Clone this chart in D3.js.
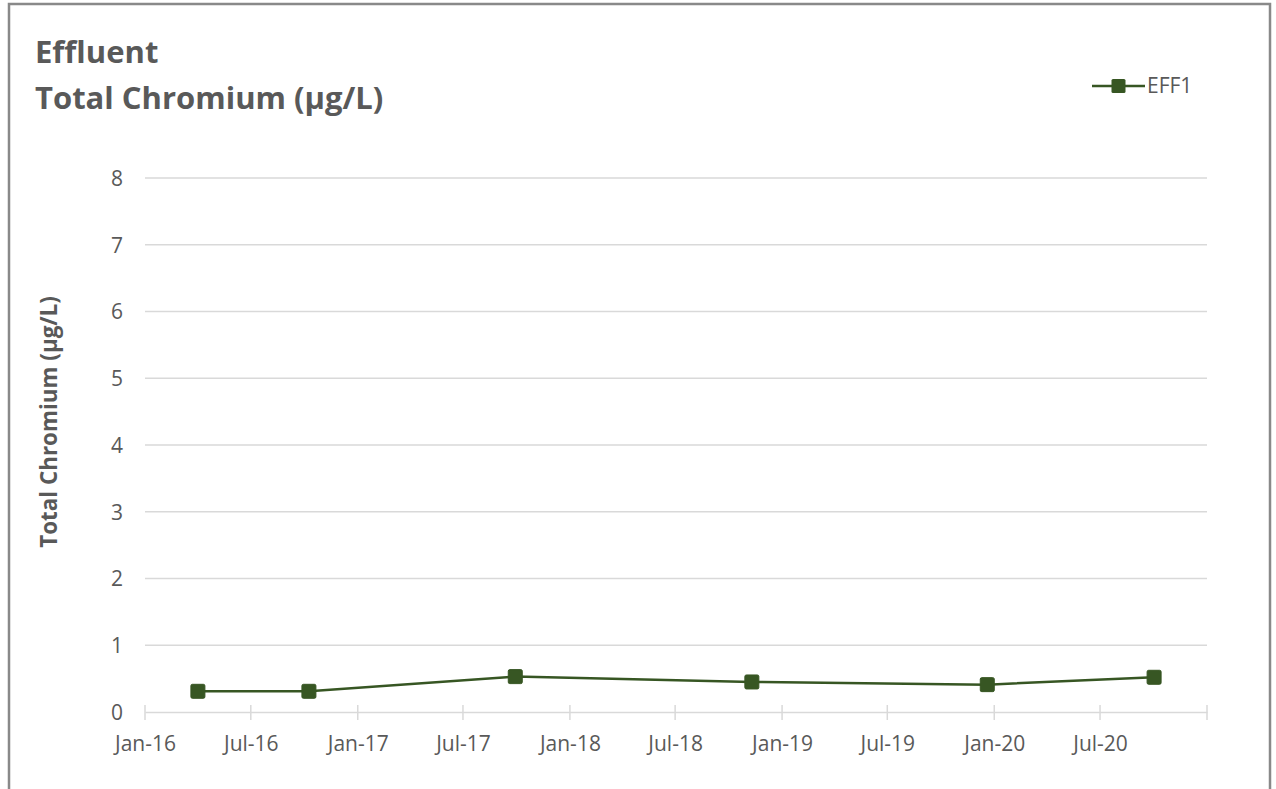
<!DOCTYPE html>
<html>
<head>
<meta charset="utf-8">
<script src="https://cdn.jsdelivr.net/npm/d3@7"></script>
<style>
  html, body { margin: 0; padding: 0; background: #fff; }
  svg { display: block; }
  text { font-family: "Open Sans", "Noto Sans", sans-serif; }
</style>
</head>
<body>
<svg id="chart" width="1276" height="789"></svg>
<script>
// ---- data ----
const seriesName = "EFF1";
const sampleDates = ["2016-04-01", "2016-10-09", "2017-09-29", "2018-11-10", "2019-12-20", "2020-10-02"];
const chromiumValues = [0.31, 0.31, 0.53, 0.45, 0.41, 0.52];
const yTicks = [0, 1, 2, 3, 4, 5, 6, 7, 8];
const xTickDates = ["2016-01-01", "2016-07-01", "2017-01-01", "2017-07-01", "2018-01-01",
                    "2018-07-01", "2019-01-01", "2019-07-01", "2020-01-01", "2020-07-01", "2021-01-01"];
const titleLines = ["Effluent", "Total Chromium (µg/L)"];
const yAxisTitle = "Total Chromium (µg/L)";

const parse = d3.timeParse("%Y-%m-%d");
const data = sampleDates.map((d, i) => ({ date: parse(d), value: chromiumValues[i] }));

const svg = d3.select("#chart");
const W = 1276, H = 789;
const margin = { left: 145, right: W - 1207, top: 178, bottom: H - 712 };
const green = "#375623";
const textGray = "#595959";
const gridGray = "#d9d9d9";

// frame
svg.append("rect")
  .attr("x", 9).attr("y", 4).attr("width", 1261).attr("height", 800)
  .attr("fill", "#fff").attr("stroke", "#898989").attr("stroke-width", 2.5);

const x = d3.scaleTime()
  .domain([parse("2016-01-01"), parse("2021-01-01")])
  .range([margin.left, W - margin.right]);
const y = d3.scaleLinear().domain([0, 8]).range([H - margin.bottom, margin.top]);

// gridlines
svg.append("g")
  .selectAll("line")
  .data(yTicks.filter(t => t > 0))
  .join("line")
  .attr("x1", x.range()[0]).attr("x2", x.range()[1])
  .attr("y1", d => y(d)).attr("y2", d => y(d))
  .attr("stroke", gridGray).attr("stroke-width", 1.3);

// y axis labels
const yAxis = d3.axisLeft(y).tickValues(yTicks).tickSize(0).tickPadding(0).tickFormat(d3.format("d"));
const gy = svg.append("g").attr("transform", `translate(${margin.left - 22},0)`).call(yAxis);
gy.select(".domain").remove();
gy.selectAll("text").attr("fill", textGray).attr("font-size", 21).attr("dy", "0.35em");

// x axis
const xAxis = d3.axisBottom(x)
  .tickValues(xTickDates.slice(0, 10).map(parse))
  .tickFormat(d3.timeFormat("%b-%y"))
  .tickSize(0).tickPadding(0);
const gx = svg.append("g").attr("transform", `translate(0,${y(0)})`).call(xAxis);
gx.select(".domain").attr("stroke", gridGray).attr("stroke-width", 1.5);
gx.selectAll("text").attr("fill", textGray).attr("font-size", 21).attr("dy", 0).attr("y", 39);
// cross tick marks
svg.append("g")
  .selectAll("line")
  .data(xTickDates.map(parse))
  .join("line")
  .attr("x1", d => x(d)).attr("x2", d => x(d))
  .attr("y1", y(0) - 7).attr("y2", y(0) + 8)
  .attr("stroke", gridGray).attr("stroke-width", 1.5);

// line
const line = d3.line().x(d => x(d.date)).y(d => y(d.value));
svg.append("path").datum(data)
  .attr("d", line).attr("fill", "none")
  .attr("stroke", green).attr("stroke-width", 2.5);

// markers
const ms = 14;
svg.append("g").selectAll("rect")
  .data(data).join("rect")
  .attr("x", d => x(d.date) - ms / 2).attr("y", d => y(d.value) - ms / 2)
  .attr("width", ms).attr("height", ms).attr("rx", 1.5)
  .attr("fill", green).attr("stroke", green).attr("stroke-width", 1);

// title
svg.append("text").attr("x", 35).attr("y", 63)
  .attr("font-size", 31).attr("font-weight", "bold").attr("fill", textGray)
  .text(titleLines[0]);
svg.append("text").attr("x", 35).attr("y", 109)
  .attr("font-size", 31).attr("font-weight", "bold").attr("fill", textGray)
  .text(titleLines[1]);

// y-axis title
svg.append("text")
  .attr("transform", "translate(57,422) rotate(-90)")
  .attr("text-anchor", "middle")
  .attr("font-size", 22.4).attr("font-weight", "bold").attr("fill", textGray)
  .text(yAxisTitle);

// legend
const lg = svg.append("g").attr("transform", "translate(1092,86)");
lg.append("line").attr("x1", 0).attr("x2", 53).attr("y1", 0).attr("y2", 0)
  .attr("stroke", green).attr("stroke-width", 2.5);
lg.append("rect").attr("x", 26.5 - 7).attr("y", -7).attr("width", 14).attr("height", 14).attr("rx", 1.5)
  .attr("fill", green);
lg.append("text").attr("x", 55).attr("y", 0).attr("dy", "0.35em")
  .attr("font-size", 21).attr("fill", textGray).text(seriesName);
</script>
</body>
</html>
